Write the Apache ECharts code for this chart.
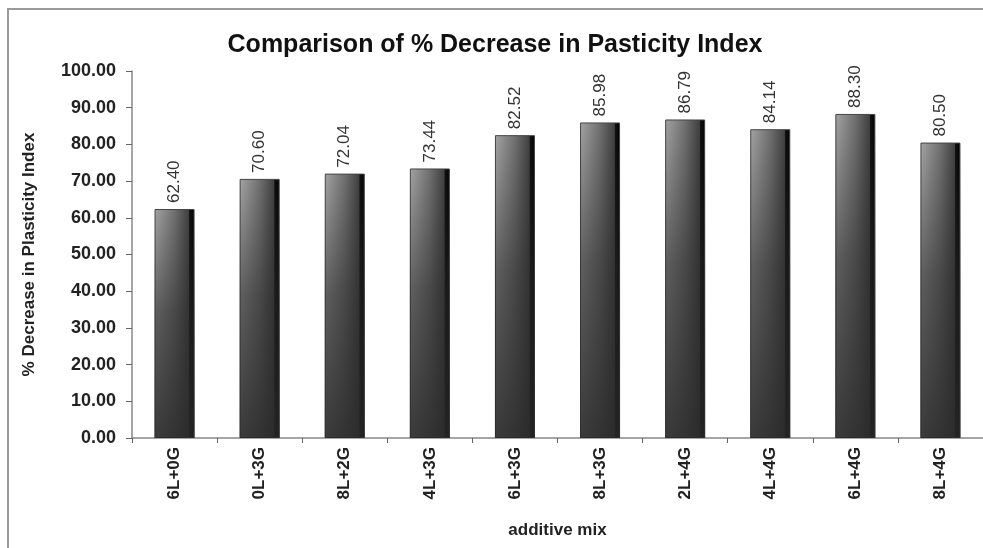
<!DOCTYPE html>
<html>
<head>
<meta charset="utf-8">
<script src="https://cdn.jsdelivr.net/npm/echarts@6/dist/echarts.min.js"></script>
<style>
  html, body { margin: 0; padding: 0; background: #fff; }
  #chart { width: 983px; height: 548px; }
</style>
</head>
<body>
<div id="chart"></div>
<script>
// data
const mixes = ['6L+0G', '0L+3G', '8L+2G', '4L+3G', '6L+3G', '8L+3G', '2L+4G', '4L+4G', '6L+4G', '8L+4G']
const decrease = [62.40, 70.60, 72.04, 73.44, 82.52, 85.98, 86.79, 84.14, 88.30, 80.50]

// front face light on the left, dark side face on the right
const barFill = new echarts.graphic.LinearGradient(0, 0, 1, 0, [
    { offset: 0, color: '#a4a4a4' },
    { offset: 0.5, color: '#707070' },
    { offset: 0.86, color: '#404040' },
    { offset: 0.875, color: '#111' },
    { offset: 1, color: '#000' }
])
// darkening toward the bottom (overlay)
const shade = new echarts.graphic.LinearGradient(0, 0, 0, 1, [
    { offset: 0, color: 'rgba(40,40,40,0)' },
    { offset: 0.45, color: 'rgba(40,40,40,0.55)' },
    { offset: 1, color: 'rgba(40,40,40,0.85)' }
])

const font = 'Liberation Sans, Arial, sans-serif'

let myChart = echarts.init(document.getElementById('chart'))
let option = {
    backgroundColor: '#fff',
    animation: false,
    graphic: [{
        type: 'rect',
        shape: { x: 8, y: 9, width: 1000, height: 600 },
        style: { fill: 'none', stroke: '#9a9a9a', lineWidth: 2 },
        silent: true
    }],
    title: {
        text: 'Comparison of % Decrease in Pasticity Index',
        left: 490,
        textAlign: 'center',
        top: 28,
        textStyle: {
            fontFamily: font,
            fontSize: 25,
            fontWeight: 'bold',
            color: '#111'
        }
    },
    grid: {
        left: 132,
        right: -9,
        top: 71,
        bottom: 110
    },
    xAxis: {
        type: 'category',
        data: mixes,
        name: 'additive mix',
        nameLocation: 'middle',
        nameGap: 84,
        nameTextStyle: {
            fontFamily: font,
            fontSize: 17,
            fontWeight: 'bold',
            color: '#222'
        },
        axisLine: { lineStyle: { color: '#888', width: 1.5 } },
        axisTick: { show: true, length: 5, lineStyle: { color: '#666' } },
        axisLabel: {
            rotate: 90,
            margin: 9,
            fontFamily: font,
            fontSize: 17,
            fontWeight: 'bold',
            color: '#222'
        }
    },
    yAxis: {
        type: 'value',
        min: 0,
        max: 100,
        interval: 10,
        name: '% Decrease in Plasticity Index',
        nameLocation: 'middle',
        nameGap: 94,
        nameTextStyle: {
            fontFamily: font,
            fontSize: 17,
            fontWeight: 'bold',
            color: '#222'
        },
        axisLine: { show: true, lineStyle: { color: '#888', width: 1.5 } },
        axisTick: { show: true, length: 6, lineStyle: { color: '#666' } },
        splitLine: { show: false },
        axisLabel: {
            margin: 16,
            formatter: function (v) { return v.toFixed(2) },
            fontFamily: font,
            fontSize: 18,
            fontWeight: 'bold',
            color: '#222'
        }
    },
    series: [{
        type: 'bar',
        data: decrease,
        barWidth: 40,
        itemStyle: {
            color: barFill,
            borderColor: '#444',
            borderWidth: 1
        },
        label: {
            show: true,
            position: 'top',
            rotate: 90,
            align: 'left',
            verticalAlign: 'middle',
            distance: 6,
            formatter: function (p) { return p.value.toFixed(2) },
            fontFamily: font,
            fontSize: 17,
            color: '#333'
        }
    }, {
        type: 'bar',
        data: decrease,
        barWidth: 40,
        barGap: '-100%',
        silent: true,
        itemStyle: { color: shade }
    }]
}
myChart.setOption(option)
</script>
</body>
</html>
